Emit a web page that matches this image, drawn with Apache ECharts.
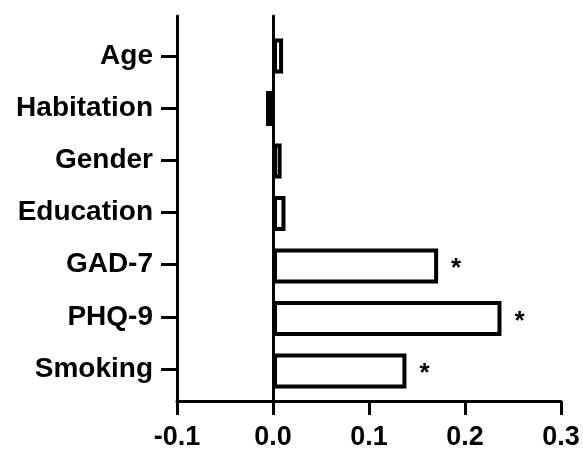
<!DOCTYPE html>
<html>
<head>
<meta charset="utf-8">
<script src="https://cdn.jsdelivr.net/npm/echarts@6/dist/echarts.min.js"></script>
<style>
  html, body { margin: 0; padding: 0; background: #fff; }
  #chart { width: 583px; height: 451px; }
</style>
</head>
<body>
<div id="chart"></div>
<script>
// categories, top to bottom
var categories = ['Age', 'Habitation', 'Gender', 'Education', 'GAD-7', 'PHQ-9', 'Smoking'];
var values = [0.0105, -0.0073, 0.009, 0.013, 0.172, 0.238, 0.139];
var marks = ['', '', '', '', '*', '*', '*'];
var xTicks = [-0.1, 0.0, 0.1, 0.2, 0.3];
var catPositions = [0, 1, 2, 3, 4, 5, 6];

var FONT = "'Liberation Sans', Arial, sans-serif";

var chart = echarts.init(document.getElementById('chart'));

var option = {
    backgroundColor: '#fff',
    animation: false,
    grid: [
        // axes frame
        { left: 177, right: 22, top: 16, bottom: 48 },
        // bar area, bands aligned to the tick positions
        { left: 177, right: 22, top: 29.75, bottom: 53.75 }
    ],
    xAxis: [
        {
            gridIndex: 0, type: 'value',
            min: xTicks[0], max: xTicks[xTicks.length - 1], interval: 0.1,
            axisLine: { show: true, onZero: false, lineStyle: { color: '#000', width: 3 } },
            axisTick: { show: true, length: 14, lineStyle: { color: '#000', width: 3 } },
            axisLabel: {
                margin: 23, color: '#000', fontSize: 27, fontWeight: 'bold', fontFamily: FONT,
                formatter: function (v) { return v.toFixed(1); }
            },
            splitLine: { show: false }
        },
        {
            gridIndex: 1, type: 'value',
            min: xTicks[0], max: xTicks[xTicks.length - 1],
            show: false
        }
    ],
    yAxis: [
        {
            gridIndex: 0, type: 'value', inverse: true,
            min: -0.762, max: 6.609,
            axisLine: { show: true, onZero: false, lineStyle: { color: '#000', width: 3 } },
            axisTick: { show: true, length: 16, customValues: catPositions, lineStyle: { color: '#000', width: 3 } },
            axisLabel: {
                margin: 24, color: '#000', fontSize: 28, fontWeight: 'bold', fontFamily: FONT,
                customValues: catPositions,
                formatter: function (v) { return categories[Math.round(v)]; }
            },
            splitLine: { show: false }
        },
        {
            // zero line
            gridIndex: 0, type: 'value', inverse: true,
            min: -0.762, max: 6.609,
            axisLine: { show: true, onZero: true, lineStyle: { color: '#000', width: 3 } },
            axisTick: { show: false },
            axisLabel: { show: false },
            splitLine: { show: false }
        },
        {
            gridIndex: 1, type: 'category', inverse: true,
            data: categories,
            show: false
        }
    ],
    series: [
        {
            type: 'bar',
            xAxisIndex: 1,
            yAxisIndex: 2,
            data: values,
            barWidth: 35,
            itemStyle: { color: '#fff', borderColor: '#000', borderWidth: 4 },
            label: {
                show: true,
                position: 'right',
                distance: 13,
                offset: [0, 3],
                color: '#000',
                fontSize: 26,
                fontWeight: 'bold',
                fontFamily: FONT,
                formatter: function (p) { return marks[p.dataIndex]; }
            }
        }
    ]
};

chart.setOption(option);
</script>
</body>
</html>
